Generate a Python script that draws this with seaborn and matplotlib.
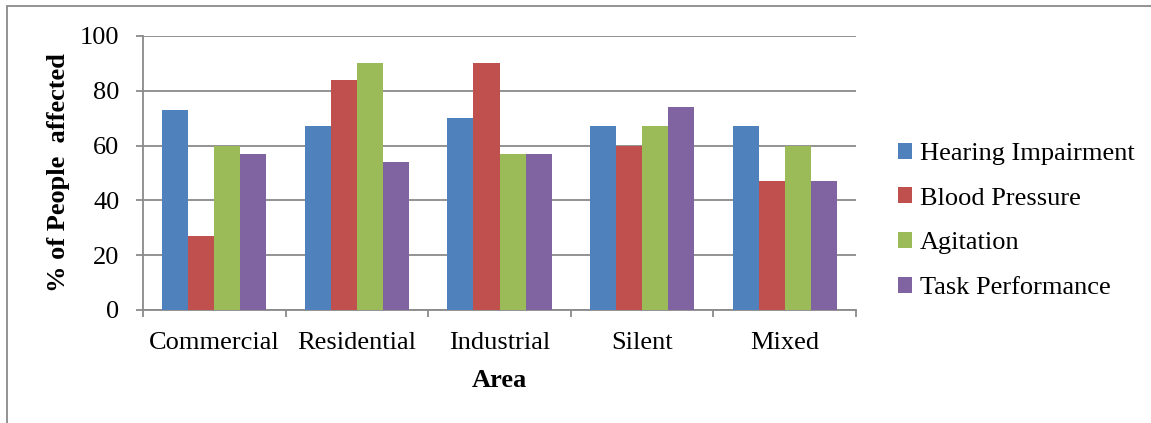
import pandas as pd
import seaborn as sns
import matplotlib
import matplotlib.pyplot as plt
from matplotlib.patches import Rectangle

matplotlib.use('Agg')

# data
areas = ['Commercial', 'Residential', 'Industrial', 'Silent', 'Mixed']
effects = ['Hearing Impairment', 'Blood Pressure', 'Agitation', 'Task Performance']
hearing = [73, 67, 70, 67, 67]
blood = [27, 84, 90, 60, 47]
agitation = [60, 90, 57, 67, 60]
task = [57, 54, 57, 74, 47]

colors = ['#4F81BD', '#C0504D', '#9BBB59', '#8064A2']

rows = []
for name, vals in zip(effects, [hearing, blood, agitation, task]):
    for a, v in zip(areas, vals):
        rows.append({'Area': a, 'Effect': name, 'Value': v})
df = pd.DataFrame(rows)

sns.set_theme(style='white')
plt.rcParams['font.family'] = ['Liberation Serif', 'DejaVu Serif']
plt.rcParams['text.color'] = 'black'
plt.rcParams['axes.labelcolor'] = 'black'

W, H = 1151, 423
FS = 19
fig = plt.figure(figsize=(W / 100, H / 100), dpi=100)
ax = fig.add_axes([143 / W, 1 - 310 / H, (856 - 143) / W, (310 - 36) / H])

sns.barplot(data=df, x='Area', y='Value', hue='Effect', order=areas,
            hue_order=effects, palette=colors, width=0.73, saturation=1,
            edgecolor='none', ax=ax, zorder=3)

ax.set_ylim(0, 100)
ax.set_xlim(-0.5, 4.5)
ax.set_yticks(range(0, 101, 20))
ax.grid(axis='y', color='#8a8a8a', linewidth=1.3, zorder=0)
ax.set_axisbelow(True)

for s in ['top', 'right']:
    ax.spines[s].set_visible(False)
for s in ['left', 'bottom']:
    ax.spines[s].set_color('#8a8a8a')
    ax.spines[s].set_linewidth(1.3)

ax.tick_params(axis='y', which='major', direction='out', length=5,
               width=1.3, color='#8a8a8a', labelsize=FS, pad=12,
               left=True, labelcolor='black')
ax.set_xticks([i - 0.5 for i in range(6)], minor=True)
ax.tick_params(axis='x', which='minor', direction='out', length=5,
               width=1.3, color='#8a8a8a', bottom=True)
ax.tick_params(axis='x', which='major', length=0, labelsize=FS, pad=16,
               labelcolor='black')

ax.set_ylabel('% of People  affected', fontsize=FS, fontweight='bold', color='black')
ax.set_xlabel('Area', fontsize=FS, fontweight='bold', color='black')
ax.yaxis.set_label_coords(-0.102, 0.5)
ax.xaxis.set_label_coords(0.5, -0.215)

leg = ax.legend(loc='center left', bbox_to_anchor=(1.025, 0.325), frameon=False,
                fontsize=FS, handlelength=0.55, handleheight=0.55,
                handletextpad=0.3, labelspacing=0.85, labelcolor='black')

# outer chart border
fig.patches.append(Rectangle((7 / W, -0.1), 1.2, 1 - 6 / H + 0.1,
                             transform=fig.transFigure, fill=False,
                             edgecolor='#8a8a8a', linewidth=1.3))

fig.savefig('out.png', dpi=100, facecolor='white')
